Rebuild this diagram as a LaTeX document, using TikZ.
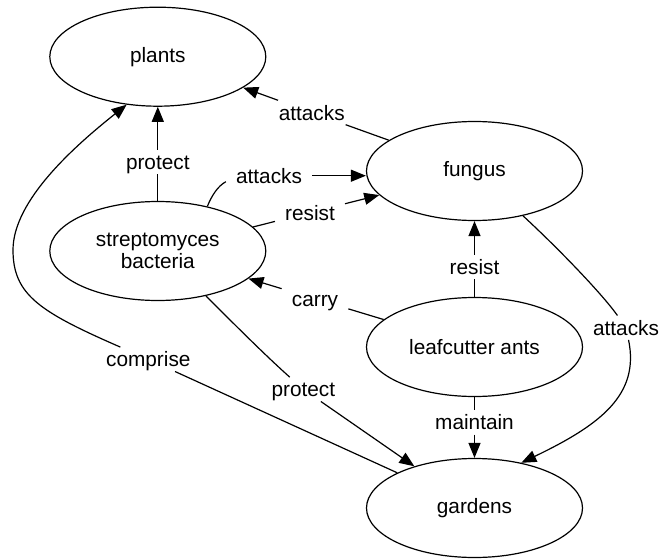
\documentclass[tikz,border=0pt]{standalone}
\usepackage{fontspec}
\setmainfont{Liberation Sans}
\usetikzlibrary{shapes.geometric,arrows.meta}
\begin{document}
\begin{tikzpicture}[x=1pt,y=-1pt,
  txt/.style={font=\fontsize{20.8}{22.7}\selectfont},
  entity/.style={txt, ellipse, draw, line width=1.2pt, minimum width=216pt,
    minimum height=99pt, inner sep=0pt, align=center},
  lbl/.style={txt, inner xsep=10pt, inner ysep=3.5pt, text height=16pt, text depth=1pt},
  link/.style={line width=1.2pt},
  arr/.style={link, -{Triangle[length=15pt,width=12pt]}}]
\useasboundingbox (0,0) rectangle (660,559);

% entities
\node[entity] (plants)  at (157.8,56.7) {plants};
\node[entity] (fungus)  at (474.5,171)  {fungus};
\node[entity] (strep)   at (157.8,251)  {streptomyces\\bacteria};
\node[entity] (ants)    at (474.5,347)  {leafcutter ants};
\node[entity] (gardens) at (474.5,508)  {gardens};

% relation labels
\node[lbl] (l1)  at (311.7,112.5) {attacks};
\node[lbl] (l2)  at (157.8,161.7) {protect};
\node[lbl] (l3)  at (269,175.7)   {attacks};
\node[lbl] (l4)  at (310,212.6)   {resist};
\node[lbl] (l5)  at (474.5,266.7) {resist};
\node[lbl] (l6)  at (315,298.8)   {carry};
\node[lbl] (l7)  at (474.5,422.3) {maintain};
\node[lbl] (l8)  at (626,327.7)   {attacks};
\node[lbl] (l9)  at (303.3,389.3) {protect};
\node[lbl] (l10) at (148.3,359.3) {comprise};

\coordinate (bend) at (13,250);

% straight relations
\draw[arr] (fungus) -- (l1) -- (plants);
\draw[arr] (strep) -- (l2) -- (plants);
\draw[arr] (strep) -- (l4) -- (fungus);
\draw[arr] (ants) -- (l5) -- (fungus);
\draw[arr] (ants) -- (l6) -- (strep);
\draw[arr] (ants) -- (l7) -- (gardens);

% streptomyces attacks fungus
\draw[link] (strep.42) .. controls (212,195) and (218,186) .. ([yshift=-6pt]l3.west);
\draw[arr] (l3.east) -- (l3 -| fungus.west);

% fungus attacks gardens
\draw[link] (fungus) .. controls (560,250) and (603,295) .. (l8);
\draw[arr] (l8) .. controls (640,395) and (600,425) .. (gardens.44);

% streptomyces protect gardens
\draw[link] (strep.-43) .. controls (235,325) and (265,355) .. (l9);
\draw[arr] (l9) -- (gardens);

% gardens comprise plants
\draw[link] (gardens) -- (l10);
\draw[arr] (l10) .. controls (40,312) and (13,295) .. (bend)
  .. controls (13,200) and (76,145) .. (plants.237);
\end{tikzpicture}
\end{document}
